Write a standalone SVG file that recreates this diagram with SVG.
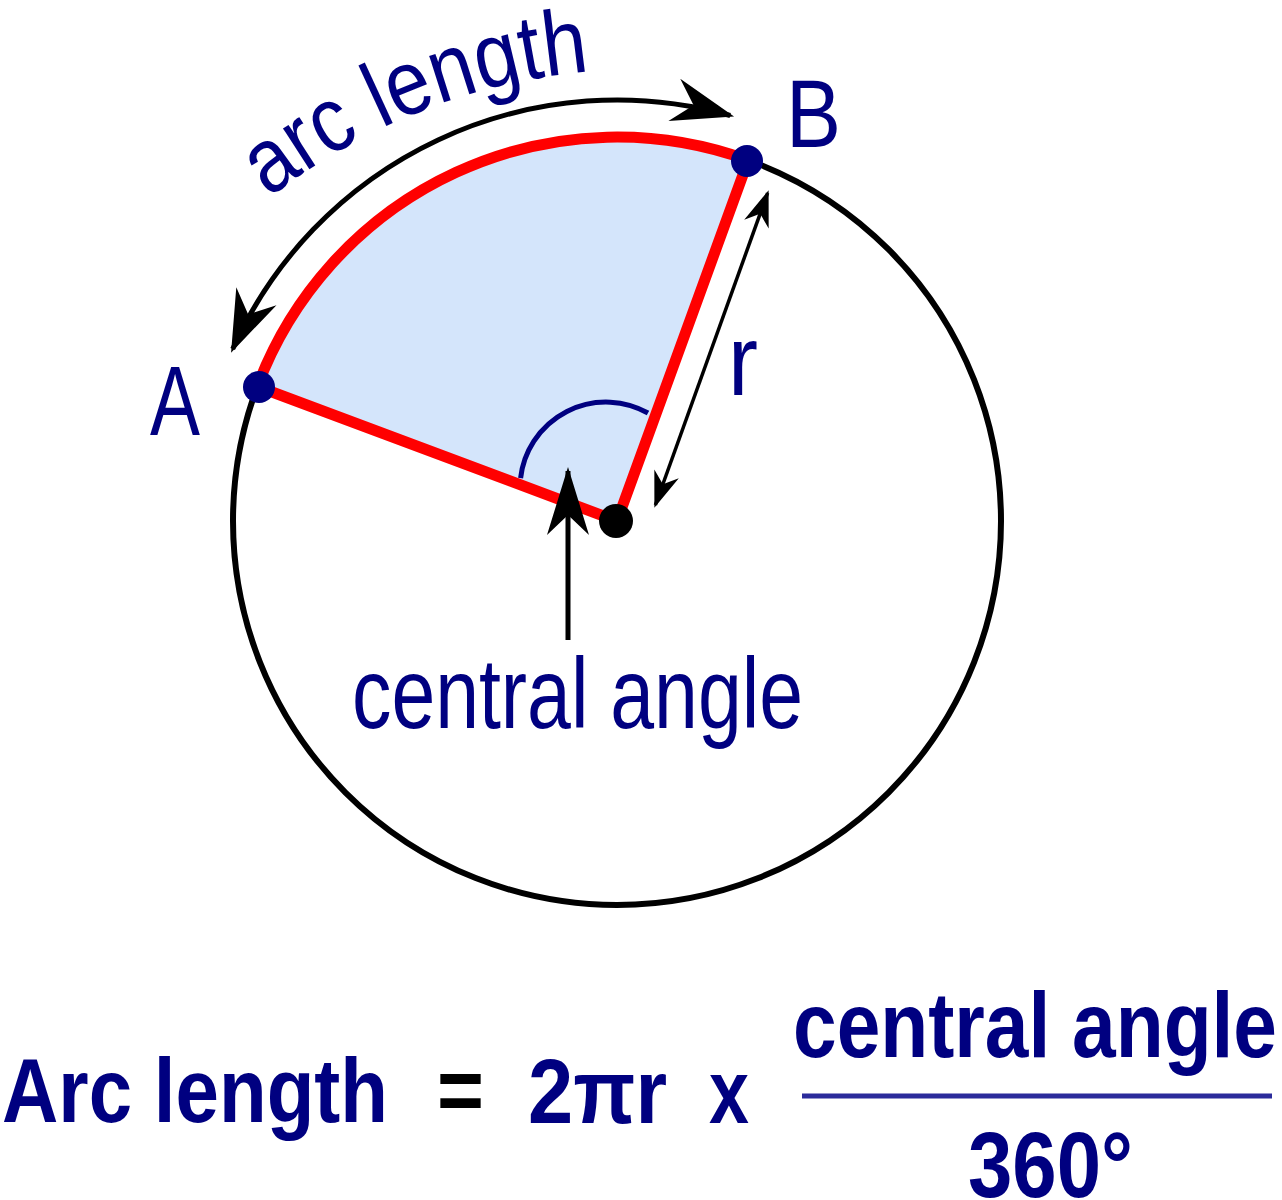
<svg xmlns="http://www.w3.org/2000/svg" width="1282" height="1200" viewBox="0 0 1282 1200">
<style>
.lbl{font-family:"Liberation Sans",Arial,sans-serif;fill:#000080;}
.bold{font-family:"Liberation Sans",Arial,sans-serif;font-weight:bold;fill:#000080;}
.blk{stroke:#000;fill:none;}
</style>
<defs>
<marker id="headL" markerUnits="userSpaceOnUse" viewBox="-66 -26 72 52" markerWidth="72" markerHeight="52" refX="-4" refY="0" orient="auto-start-reverse">
<path d="M0,0 L-62,-22 L-42,0 L-62,22 Z" fill="#000"/>
</marker>
<marker id="headS" markerUnits="userSpaceOnUse" viewBox="-40 -15 44 30" markerWidth="44" markerHeight="30" refX="-3" refY="0" orient="auto-start-reverse">
<path d="M0,0 L-36,-13 L-25,0 L-36,13 Z" fill="#000"/>
</marker>
<marker id="headC" markerUnits="userSpaceOnUse" viewBox="-72 -24 78 48" markerWidth="78" markerHeight="48" refX="-4" refY="0" orient="auto">
<path d="M0,0 L-68,-21 L-48,0 L-68,21 Z" fill="#000"/>
</marker>
<path id="arcTextPath" d="M215.2,246.2 A605,605 0 0 1 748.1,78.2"/>
</defs>

<g id="circle">
<path id="sector-fill" d="M617,521 L257.3,386.5 A384,384 0 0 1 748.3,160.2 Z" fill="#d4e5fb"/>
<circle cx="617" cy="521" r="384" class="blk" stroke-width="6"/>
</g>

<g id="sector">
<path d="M617,521 L257.3,386.5 A384,384 0 0 1 748.3,160.2 Z" fill="none" stroke="#ff0000" stroke-width="11" stroke-linejoin="round"/>
<path id="angle-arc" d="M520.6,478.1 A86,86 0 0 1 648,413" fill="none" stroke="#000080" stroke-width="5"/>
</g>

<g id="connectors">
<path id="arc-arrow" d="M232.7,349.1 A421,421 0 0 1 730.2,115.5" class="blk" stroke-width="5" marker-start="url(#headL)" marker-end="url(#headL)"/>
<line id="radius-arrow" x1="655.4" y1="505" x2="767.6" y2="193" class="blk" stroke-width="3.5" marker-start="url(#headS)" marker-end="url(#headS)"/>
<line id="angle-arrow" x1="568" y1="640" x2="568" y2="471" class="blk" stroke-width="5" marker-end="url(#headC)"/>
</g>

<g id="point-A">
<circle cx="259" cy="387" r="16" fill="#000080"/>
<text class="lbl" x="150" y="435" font-size="98" textLength="50" lengthAdjust="spacingAndGlyphs">A</text>
</g>
<g id="point-B">
<circle cx="747" cy="161" r="16" fill="#000080"/>
<text class="lbl" x="786" y="147" font-size="96" textLength="55" lengthAdjust="spacingAndGlyphs">B</text>
</g>
<g id="center">
<circle cx="616" cy="521" r="17" fill="#000"/>
</g>

<g id="labels">
<text class="lbl" font-size="92"><textPath href="#arcTextPath" startOffset="72" textLength="350" lengthAdjust="spacingAndGlyphs">arc length</textPath></text>
<text class="lbl" x="728" y="395" font-size="100" textLength="30" lengthAdjust="spacingAndGlyphs">r</text>
<text class="lbl" x="352" y="728" font-size="100" textLength="451" lengthAdjust="spacingAndGlyphs">central angle</text>
</g>

<g id="formula">
<text class="bold" x="2" y="1122" font-size="91" textLength="386" lengthAdjust="spacingAndGlyphs">Arc length</text>
<text x="437" y="1121" font-size="91" font-family="Liberation Sans, Arial, sans-serif" font-weight="bold" fill="#000" textLength="47" lengthAdjust="spacingAndGlyphs">=</text>
<text class="bold" x="528" y="1123" font-size="91" textLength="139" lengthAdjust="spacingAndGlyphs">2πr</text>
<text class="bold" x="709" y="1123" font-size="91" textLength="40" lengthAdjust="spacingAndGlyphs">x</text>
<text class="bold" x="793" y="1057" font-size="93" textLength="484" lengthAdjust="spacingAndGlyphs">central angle</text>
<line x1="802" y1="1096" x2="1272" y2="1096" stroke="#2b2b9b" stroke-width="5"/>
<text class="bold" x="968" y="1197" font-size="93" textLength="165" lengthAdjust="spacingAndGlyphs">360°</text>
</g>
</svg>
